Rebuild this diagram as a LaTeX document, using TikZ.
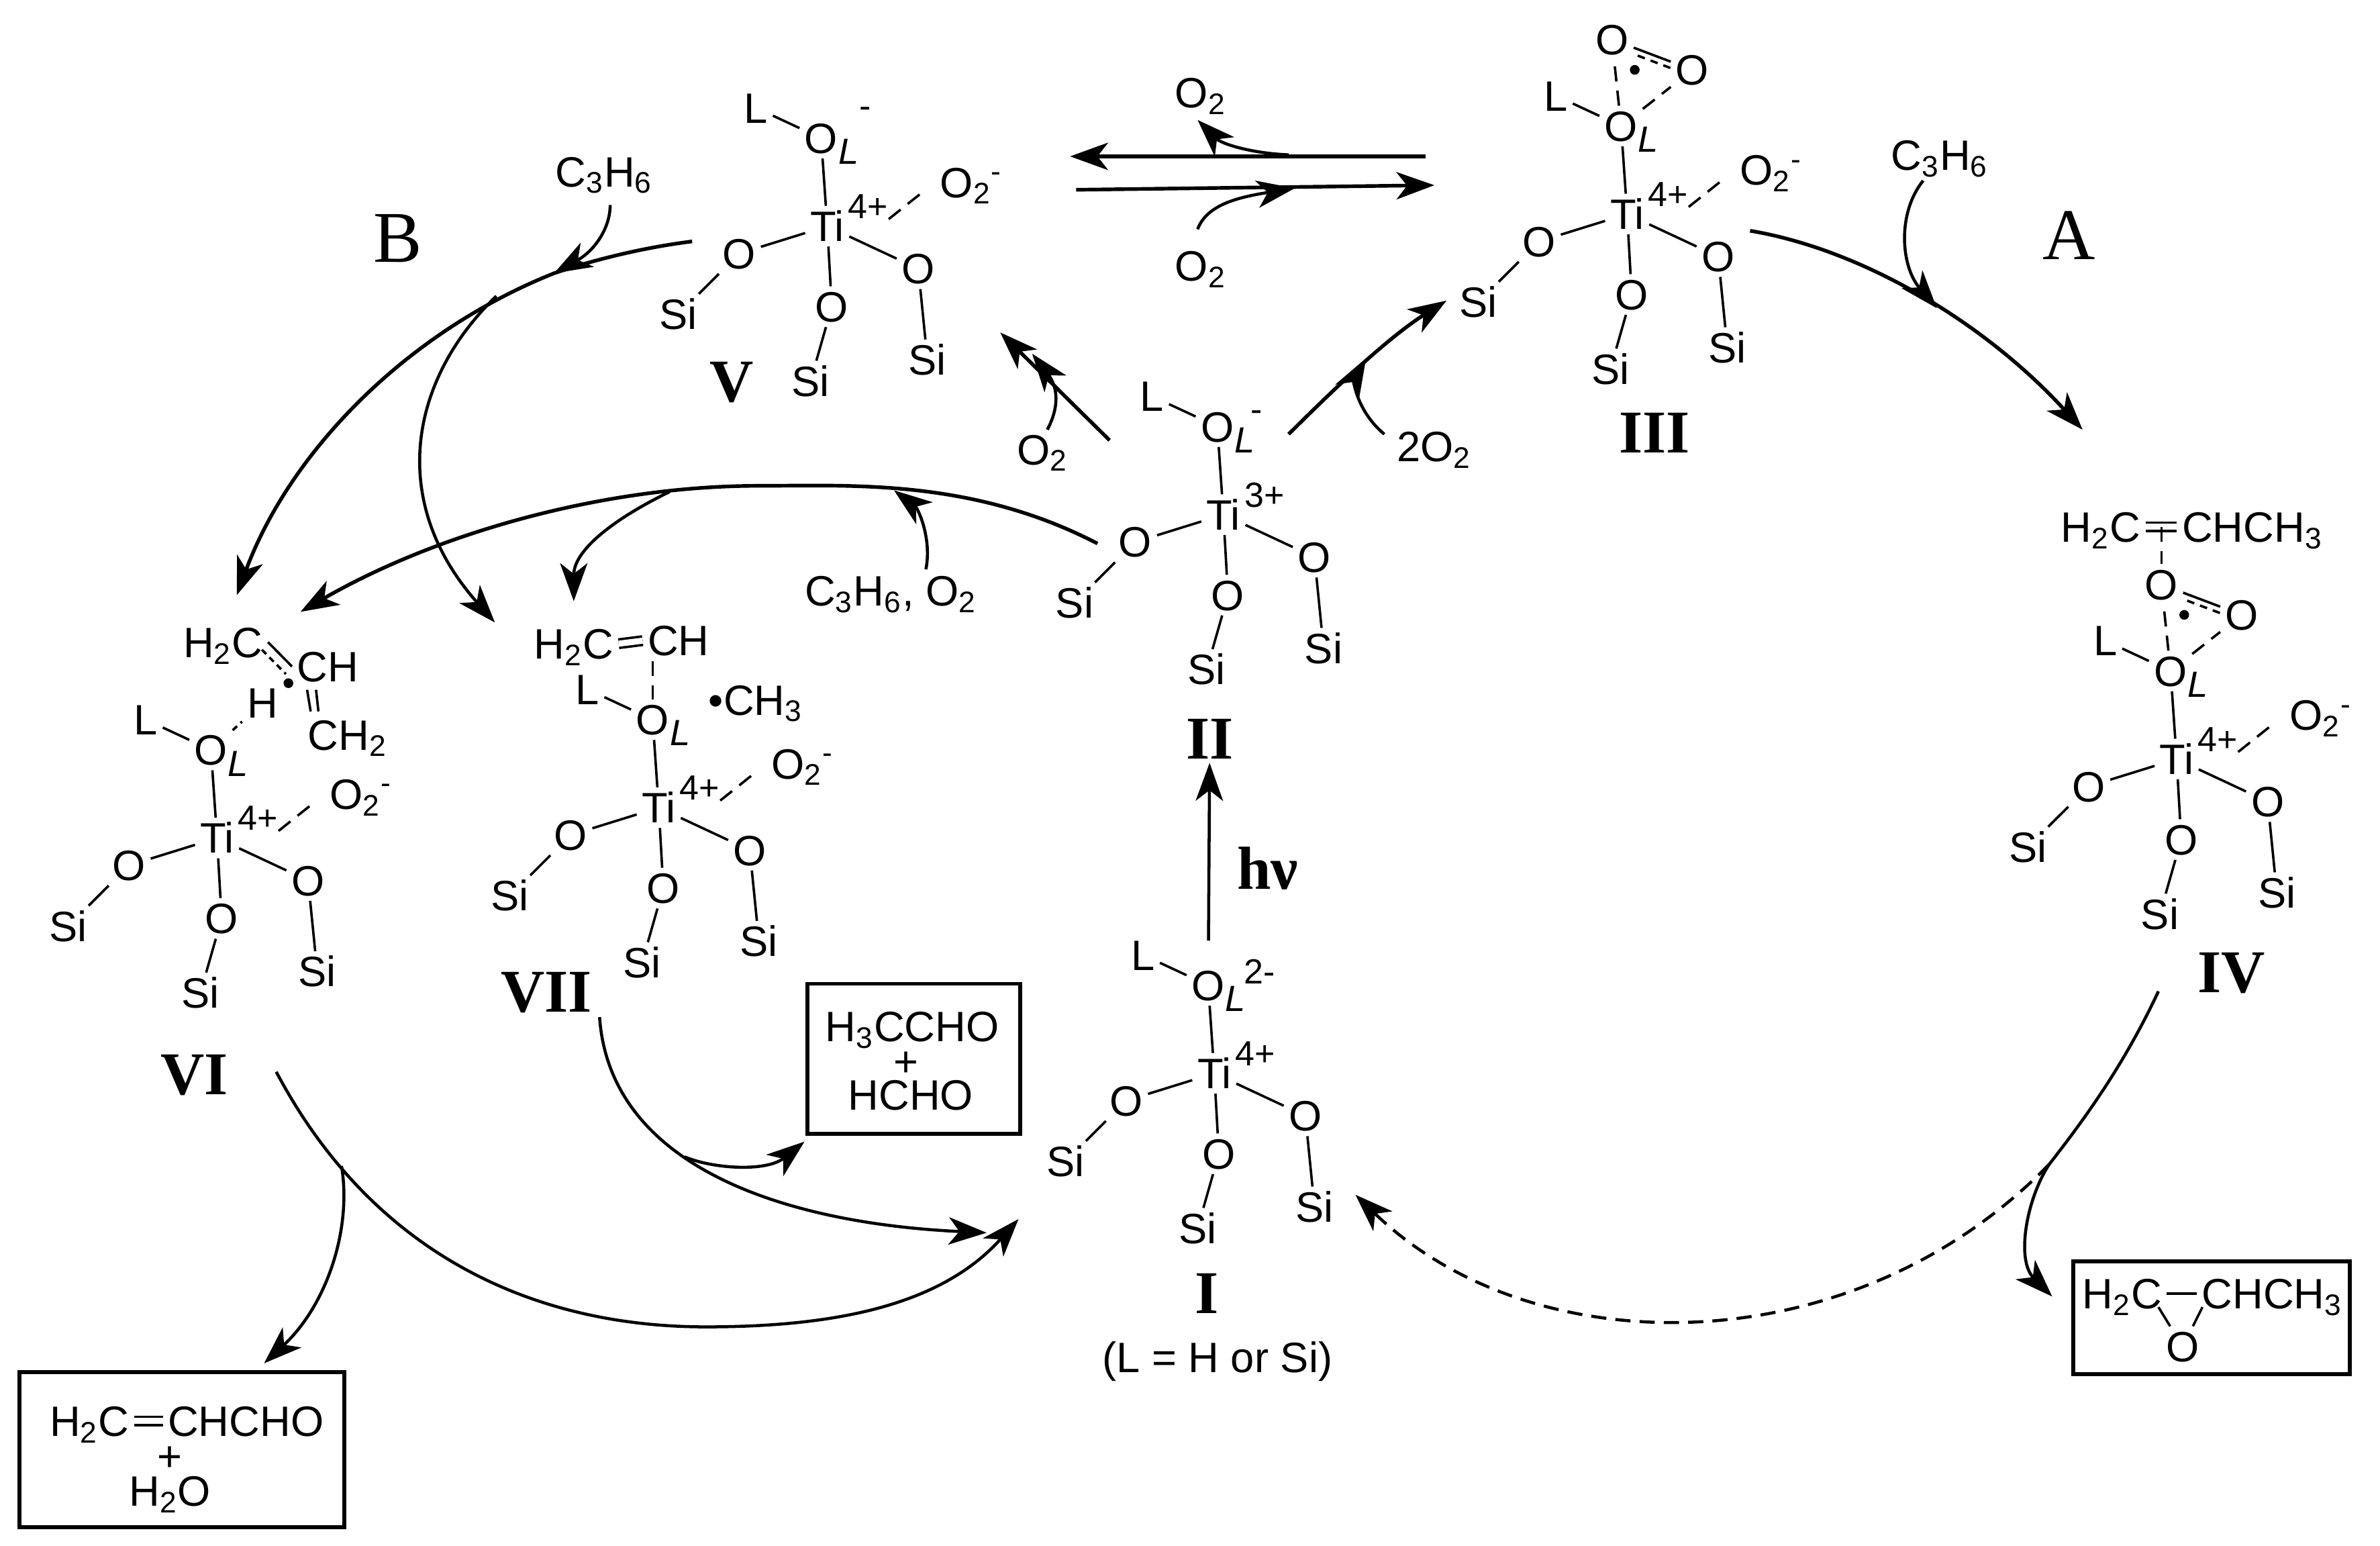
\documentclass[tikz,border=0pt]{standalone}
\usepackage{fontspec}
\setmainfont{Liberation Sans}
\newfontfamily\seriffont{Liberation Serif}
\usetikzlibrary{arrows.meta}

\newcommand{\dn}[1]{\textsubscript{#1}}

% Ti centre with its O_L and three O-Si arms
\newcommand{\tisite}[4]{%
  \begin{scope}[shift={(#2,#3)}]
    \node[atom] (ti#1) at (0,0) {Ti};
    \node[charge] (chg#1) at (27,-13) {#4};
    \node[atom] (oL#1) at (-4,-58) {O};
    \node[subl] (subL#1) at (14,-49) {L};
    \node[atom] (lig#1) at (-47,-78) {L};
    \node[atom] (oA#1) at (-58,18) {O};
    \node[atom] (siA#1) at (-98,58) {Si};
    \node[atom] (oB#1) at (3,53) {O};
    \node[atom] (siB#1) at (-11,102) {Si};
    \node[atom] (oC#1) at (60,28) {O};
    \node[atom] (siC#1) at (66,88) {Si};
    \draw[bond] (ti#1) -- (oL#1);
    \draw[bond] (oL#1) -- (lig#1);
    \draw[bond] (ti#1) -- (oA#1);
    \draw[bond] (oA#1) -- (siA#1);
    \draw[bond] (ti#1) -- (oB#1);
    \draw[bond] (oB#1) -- (siB#1);
    \draw[bond] (ti#1) -- (oC#1);
    \draw[bond] (oC#1) -- (siC#1);
  \end{scope}}

% O2- on the Ti centre
\newcommand{\superoxo}[3]{%
  \begin{scope}[shift={(#2,#3)}]
    \node[atom] (oTwo#1) at (95,-29) {O\dn{2}\textsuperscript{-}};
    \draw[dashbond, shorten >=6pt] (chg#1.south east) -- (oTwo#1.west);
  \end{scope}}

% three-membered O ring on O_L
\newcommand{\peroxo}[3]{%
  \begin{scope}[shift={(#2,#3)}]
    \node[atom] (oTop#1) at (-10,-115) {O};
    \node[atom] (oSide#1) at (43,-95) {O};
    \node[dotnode] (dot#1) at (5,-95) {};
    \draw[dashbond] (oL#1) -- (oTop#1);
    \draw[dashbond] (oL#1) -- (oSide#1);
    \draw[bond] (oTop#1) -- (oSide#1);
    \draw[bond, dash pattern=on 2.5pt off 2pt, shorten <=8pt, shorten >=8pt]
      ([shift={(1pt,-2.5pt)}]oTop#1.center) -- ([shift={(1pt,-2.5pt)}]oSide#1.center);
  \end{scope}}

\begin{document}
\begin{tikzpicture}[x=0.5pt, y=-0.5pt, >={Stealth[length=12.5pt,width=9pt,inset=3.5pt]},
    font=\fontsize{14}{16}\selectfont,
    atom/.style={inner sep=1.5pt, text height=10pt, text depth=0pt},
    charge/.style={inner sep=0pt, font=\fontsize{11.5}{12}\selectfont},
    subl/.style={inner sep=0pt, font=\fontsize{12}{12}\selectfont\itshape},
    numeral/.style={inner sep=1pt, font=\fontsize{20}{22}\selectfont\seriffont\bfseries},
    cycletag/.style={inner sep=1pt, font=\fontsize{24}{26}\selectfont\seriffont},
    bond/.style={line width=0.8pt},
    dashbond/.style={line width=0.8pt, dash pattern=on 5pt off 3pt},
    dblbond/.style={line width=0.8pt, double, double distance=2pt},
    mainarrow/.style={->, line width=1.2pt},
    sidearrow/.style={->, line width=1pt},
    dotnode/.style={circle, fill=black, inner sep=0pt, minimum size=3.2pt},
    prodbox/.style={draw, line width=1.3pt, inner sep=0pt}]

  \useasboundingbox (0,0) rectangle (1568,1018);

  % Complexes
  \tisite{I}{800}{707}{4+}
  \tisite{II}{806}{339}{3+}
  \tisite{III}{1072}{141}{4+}
  \tisite{IV}{1434}{500}{4+}
  \tisite{V}{545}{149}{4+}
  \tisite{VI}{143}{552}{4+}
  \tisite{VII}{434}{532}{4+}

  \node[charge] (chgOI) at (830,640) {2-};
  \node[charge] (chgOII) at (828,274) {-};
  \node[charge] (chgOV) at (570,74) {-};

  \superoxo{III}{1072}{141}
  \superoxo{IV}{1434}{500}
  \superoxo{V}{545}{149}
  \superoxo{VI}{143}{552}
  \superoxo{VII}{434}{532}

  \peroxo{III}{1072}{141}
  \peroxo{IV}{1434}{500}

  % Propene on IV
  \node[atom] (hcIV) at (1384,347) {H\dn{2}C};
  \node[atom] (chIV) at (1484,347) {CHCH\dn{3}};
  \draw[dblbond] (hcIV) -- (chIV);
  \draw[dashbond] (oTopIV |- hcIV) -- (oTopIV);

  % Allyl on VI
  \node[atom] (hcVI) at (147,423) {H\dn{2}C};
  \node[atom] (chVI) at (216,439) {CH};
  \node[atom] (chtVI) at (229,484) {CH\dn{2}};
  \node[atom] (hVI) at (173,463) {H};
  \node[dotnode] (dotVI) at (190,450) {};
  \draw[bond] (hcVI.east) -- (chVI.west);
  \draw[bond, dash pattern=on 2pt off 1.5pt] ([shift={(-2pt,-2.5pt)}]hcVI.east) -- ([shift={(-2pt,-2.5pt)}]chVI.west);
  \draw[bond, shorten <=1pt, shorten >=1pt] ([xshift=-7pt]chVI.south) -- ([xshift=-12pt]chtVI.north);
  \draw[bond, shorten <=1pt, shorten >=1pt] ([xshift=-4pt]chVI.south) -- ([xshift=-9.5pt]chtVI.north);
  \draw[bond, dash pattern=on 2pt off 1.5pt] (oLVI) -- (hVI);

  % Vinyl and methyl on VII
  \node[atom] (hcVII) at (378,424) {H\dn{2}C};
  \node[atom] (chVII) at (447,422) {CH};
  \node[atom] (mthVII) at (498,461) {•CH\dn{3}};
  \draw[dblbond] (hcVII.east) -- (chVII.west);
  \draw[dashbond] (chVII.south -| oLVII) -- (oLVII);

  % Complex labels
  \node[numeral] (labI) at (795,852) {I};
  \node[atom] (noteI) at (802,894) {(L = H or Si)};
  \node[numeral] (labII) at (797,487) {II};
  \node[numeral] (labIII) at (1090,285) {III};
  \node[numeral] (labIV) at (1470,641) {IV};
  \node[numeral] (labV) at (482,252) {V};
  \node[numeral] (labVI) at (128,708) {VI};
  \node[numeral] (labVII) at (360,654) {VII};
  \node[cycletag] (cycA) at (1363,155) {A};
  \node[cycletag] (cycB) at (262,157) {B};

  % Reagents
  \node[atom] (oTop) at (791,61) {O\dn{2}};
  \node[atom] (oBot) at (791,175) {O\dn{2}};
  \node[atom] (propA) at (1278,102) {C\dn{3}H\dn{6}};
  \node[atom] (propB) at (398,113) {C\dn{3}H\dn{6}};
  \node[atom] (oTwoV) at (687,296) {O\dn{2}};
  \node[atom] (twoO) at (945,294) {2O\dn{2}};
  \node[atom] (propO) at (587,389) {C\dn{3}H\dn{6}, O\dn{2}};
  \node[numeral] (hnu) at (835,572) {hν};

  % Product boxes
  \node[prodbox, minimum width=70pt, minimum height=49.5pt] (boxAld) at (602,697.5) {};
  \node[atom] (prodAc) at (601,676) {H\dn{3}CCHO};
  \node[atom] (plusAc) at (597,699) {+};
  \node[atom] (prodFo) at (600,721) {HCHO};

  \node[prodbox, minimum width=107pt, minimum height=51pt] (boxAcr) at (120,955) {};
  \node[atom] (acrL) at (59,936) {H\dn{2}C};
  \node[atom] (acrR) at (162,936) {CHCHO};
  \node[atom] (plusAcr) at (112,959) {+};
  \node[atom] (prodWat) at (112,982) {H\dn{2}O};
  \draw[dblbond] (acrL.east) -- (acrR.west);

  \node[prodbox, minimum width=91pt, minimum height=37pt] (boxEp) at (1457,868) {};
  \node[atom] (epL) at (1398,852) {H\dn{2}C};
  \node[atom] (epR) at (1497,852) {CHCH\dn{3}};
  \node[atom] (epO) at (1438,887) {O};
  \coordinate (epBondL) at (1422,861);
  \coordinate (epBondR) at (1451,861);
  \draw[bond] (epL) -- (epR);
  \draw[bond] (epBondL) -- (epO);
  \draw[bond] (epBondR) -- (epO);

  % Arrow ends
  \coordinate (eqTopR) at (939,103);
  \coordinate (eqTopL) at (705,103);
  \coordinate (eqBotL) at (709,125);
  \coordinate (eqBotR) at (945,122);
  \coordinate (outIII) at (1153,152);
  \coordinate (inIV) at (1372,283);
  \coordinate (outIV) at (1422,653);
  \coordinate (forkIV) at (1350,767);
  \coordinate (inI) at (893,787);
  \coordinate (outVI) at (182,706);
  \coordinate (forkVI) at (225,768);
  \coordinate (inIa) at (671,803);
  \coordinate (outVII) at (395,670);
  \coordinate (forkVII) at (451,762);
  \coordinate (inIb) at (650,812);
  \coordinate (outIIa) at (849,286);
  \coordinate (inIII) at (953,198);
  \coordinate (outIIb) at (731,290);
  \coordinate (inV) at (659,219);
  \coordinate (outIIc) at (723,358);
  \coordinate (topIIc) at (500,320);
  \coordinate (inVI) at (198,403);
  \coordinate (forkII) at (441,324);
  \coordinate (inVII) at (378,396);
  \coordinate (outV) at (456,159);
  \coordinate (forkV) at (365,180);
  \coordinate (inVIb) at (156,392);
  \coordinate (forkVb) at (327,195);
  \coordinate (inVIIb) at (326,410);

  % Exchange between V and III
  \draw[mainarrow] (eqTopR) -- (eqTopL);
  \draw[mainarrow] (eqBotL) -- (eqBotR);
  \draw[sidearrow] (849,102) .. controls (825,101) and (805,95) .. (789,79);
  \draw[sidearrow] (789,151) .. controls (795,135) and (815,130) .. (853,124);

  % Cycle A
  \draw[mainarrow] (outIII) .. controls (1230,165) and (1310,215) .. (inIV);
  \draw[sidearrow] (1267,119) .. controls (1250,140) and (1252,175) .. (1276,203);
  \draw[bond, line width=1pt] (outIV) .. controls (1400,700) and (1375,735) .. (forkIV);
  \draw[->, line width=1pt, dash pattern=on 5pt off 3pt] (forkIV) .. controls (1220,900) and (1010,900) .. (inI);
  \draw[sidearrow] (forkIV) .. controls (1335,790) and (1328,830) .. (1352,854);

  % II to III and V
  \draw[mainarrow] (outIIa) .. controls (880,255) and (915,222) .. (inIII);
  \draw[sidearrow] (912,286) .. controls (893,270) and (892,250) .. (900,236);
  \draw[mainarrow] (outIIb) -- (inV);
  \draw[sidearrow] (690,283) .. controls (698,268) and (697,255) .. (680,233);

  % Cycle B
  \draw[mainarrow] (outIIc) .. controls (640,315) and (560,320) .. (topIIc)
    .. controls (400,320) and (290,350) .. (inVI);
  \draw[sidearrow] (610,375) .. controls (614,355) and (605,335) .. (589,323);
  \draw[sidearrow] (forkII) .. controls (412,338) and (378,360) .. (inVII);
  \draw[mainarrow] (outV) .. controls (425,163) and (395,170) .. (forkV)
    .. controls (265,220) and (190,300) .. (inVIb);
  \draw[sidearrow] (402,135) .. controls (402,150) and (392,165) .. (forkV);
  \draw[sidearrow] (forkVb) .. controls (270,250) and (255,330) .. (inVIIb);

  % Back to I
  \draw[mainarrow, line width=1pt] (outVI) .. controls (245,825) and (350,874) .. (465,874)
    .. controls (550,874) and (620,860) .. (inIa);
  \draw[sidearrow] (forkVI) .. controls (232,810) and (215,860) .. (174,898);
  \draw[mainarrow, line width=1pt] (outVII) .. controls (402,770) and (520,806) .. (inIb);
  \draw[sidearrow] (forkVII) .. controls (470,770) and (505,772) .. (530,752);

  % Photoexcitation
  \draw[mainarrow, line width=1pt, shorten <=8pt] (oLI) -- (labII);

\end{tikzpicture}
\end{document}
